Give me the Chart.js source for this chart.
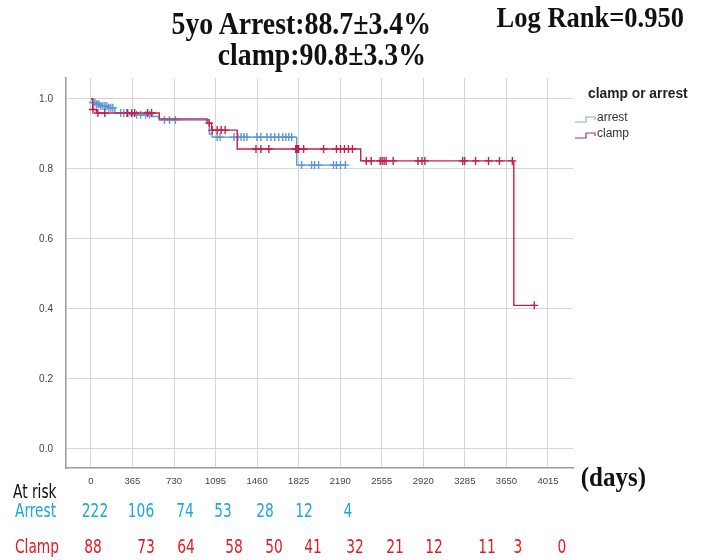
<!DOCTYPE html>
<html>
<head>
<meta charset="utf-8">
<script src="https://cdn.jsdelivr.net/npm/chart.js@4/dist/chart.umd.min.js"></script>
<style>
  html,body{margin:0;padding:0;background:#fff;}
  #wrap{position:relative;width:707px;height:560px;overflow:hidden;background:#fff;}
  #c{position:absolute;left:0;top:0;}
  .t{position:absolute;white-space:nowrap;line-height:1;}
  .serif{font-family:'Liberation Serif','Times New Roman',serif;font-weight:bold;color:#111;transform:scale(1,1.12);transform-origin:right top;}
  .narrow{font-family:'Liberation Sans Narrow','Arial Narrow','DejaVu Sans Condensed','Liberation Sans',sans-serif;transform:scale(0.9,1.12);transform-origin:left top;}
  .num{transform:translateX(-50%) scale(0.9,1.12);transform-origin:center top;}
</style>
</head>
<body>
<div id="wrap">
  <canvas id="c" width="707" height="560"></canvas>
</div>
<script>
// ---------- data ----------
const xTickValues = [0, 365, 730, 1095, 1460, 1825, 2190, 2555, 2920, 3285, 3650, 4015];
const yTickValues = [0, 0.2, 0.4, 0.6, 0.8, 1.0];

// Kaplan-Meier step points (days, survival)
const arrestTimes = [0, 17, 44, 79, 148, 210, 340, 533, 600, 1040, 1065, 1808, 2240];
const arrestSurv  = [1.0, 0.99, 0.985, 0.98, 0.975, 0.96, 0.955, 0.95, 0.94, 0.90, 0.891, 0.811, 0.811];

const clampTimes = [0, 15, 50, 600, 1020, 1060, 1285, 2370, 3715, 3895];
const clampSurv  = [1.0, 0.97, 0.96, 0.943, 0.931, 0.911, 0.857, 0.823, 0.41, 0.41];

// censored observation times (days)
const arrestCensored = [17, 35, 52, 70, 87, 105, 122, 140, 157, 175, 192, 262, 288, 314, 402, 437, 480, 515, 646, 690, 742,
  1109, 1135, 1257, 1292, 1319, 1345, 1371, 1458, 1493, 1546, 1581, 1615, 1650, 1685, 1712, 1738, 1764,
  1851, 1939, 1965, 2000, 2131, 2157, 2192, 2235];
const clampCensored = [17, 61, 122, 323, 358, 384, 498, 533, 1039, 1065, 1109, 1144, 1179, 1450, 1493, 1563,
  1799, 1808, 1816, 1825, 1869, 2044, 2157, 2192, 2227, 2262, 2297, 2419, 2462, 2541, 2559, 2576, 2594, 2655,
  2873, 2908, 2934, 3266, 3283, 3379, 3493, 3589, 3702, 3895];

// number at risk
const atRiskArrest = [222, 106, 74, 53, 28, 12, 4];
const atRiskClamp  = [88, 73, 64, 58, 50, 41, 32, 21, 12, 11, 3, 0];

// ---------- helpers ----------
function survAt(times, surv, t){
  let s = surv[0];
  for (let i = 0; i < times.length; i++){ if (times[i] <= t) s = surv[i]; }
  return s;
}
const BLUE = '#5b98d6';
const RED  = '#c61f4d';

const ctx = document.getElementById('c').getContext('2d');
new Chart(ctx, {
  type: 'line',
  data: {
    datasets: [
      { label: 'clamp', data: clampTimes.map((t,i)=>({x:t,y:clampSurv[i]})), stepped: 'before',
        borderColor: RED, borderWidth: 1.4, pointRadius: 0, fill: false },
      { label: 'clamp censored', type: 'scatter', data: clampCensored.map(t=>({x:t,y:survAt(clampTimes,clampSurv,t)})),
        pointStyle: 'cross', pointRadius: 4, borderColor: RED, backgroundColor: RED, pointBorderWidth: 1.4, showLine:false },
      { label: 'arrest', data: arrestTimes.map((t,i)=>({x:t,y:arrestSurv[i]})), stepped: 'before',
        borderColor: BLUE, borderWidth: 1.4, pointRadius: 0, fill: false },
      { label: 'arrest censored', type: 'scatter', data: arrestCensored.map(t=>({x:t,y:survAt(arrestTimes,arrestSurv,t)})),
        pointStyle: 'cross', pointRadius: 4, borderColor: BLUE, backgroundColor: BLUE, pointBorderWidth: 1.4, showLine:false }
    ]
  },
  options: {
    responsive: false,
    devicePixelRatio: 1,
    animation: false,
    layout: { padding: { top: 78, right: 134, left: 0, bottom: 0 } },
    plugins: { legend: { display: false }, tooltip: { enabled: false } },
    scales: {
      x: {
        type: 'linear', min: -219, max: 4235,
        afterBuildTicks: s => { s.ticks = xTickValues.map(v => ({ value: v })); },
        afterFit: s => { s.height = 92; },
        grid: { color: '#d6d6d6', lineWidth: 1, drawTicks: false },
        border: { color: '#9a9a9a', width: 1.5 },
        ticks: { autoSkip: false, maxRotation: 0, padding: 8, color: '#444',
                 font: { family: "'Liberation Sans Narrow','Arial Narrow','Liberation Sans',sans-serif", size: 9.5 },
                 callback: v => String(v) }
      },
      y: {
        type: 'linear', min: -0.055, max: 1.06,
        afterBuildTicks: s => { s.ticks = yTickValues.map(v => ({ value: v })); },
        afterFit: s => { s.width = 66; },
        grid: { color: '#d6d6d6', lineWidth: 1, drawTicks: false },
        border: { color: '#9a9a9a', width: 1.5 },
        ticks: { padding: 13, color: '#444',
                 font: { family: "'Liberation Sans Narrow','Arial Narrow','Liberation Sans',sans-serif", size: 10 },
                 callback: v => Number(v).toFixed(1) }
      }
    }
  }
});

// ---------- text overlays ----------
const wrap = document.getElementById('wrap');
function addText(txt, cls, style){
  const d = document.createElement('div');
  d.className = 't ' + cls;
  d.textContent = txt;
  Object.assign(d.style, style);
  wrap.appendChild(d);
  return d;
}
// titles
addText('5yo Arrest:88.7\u00B13.4%', 'serif', { right: (707-431)+'px', top: '8px', fontSize: '27.8px' });
addText('clamp:90.8\u00B13.3%', 'serif', { right: (707-426)+'px', top: '39px', fontSize: '27.8px' });
addText('Log Rank=0.950', 'serif', { right: (707-684)+'px', top: '2px', fontSize: '26.5px' });
addText('(days)', 'serif', { right: (707-646)+'px', top: '462px', fontSize: '25px' });

// legend
addText('clamp or arrest', '', { left: '588px', top: '87px', fontSize: '13.8px', fontWeight: 'bold',
  fontFamily: "'Liberation Sans',Arial,sans-serif", color: '#222' });
addText('arrest', '', { left: '597px', top: '111px', fontSize: '12px', fontFamily: "'Liberation Sans',Arial,sans-serif", color: '#333' });
addText('clamp', '', { left: '597px', top: '127px', fontSize: '12px', fontFamily: "'Liberation Sans',Arial,sans-serif", color: '#333' });
const svgNS = 'http://www.w3.org/2000/svg';
const svg = document.createElementNS(svgNS, 'svg');
svg.setAttribute('width', '707'); svg.setAttribute('height', '560');
svg.style.position = 'absolute'; svg.style.left = '0'; svg.style.top = '0'; svg.style.pointerEvents = 'none';
[[122, '#86aedb'], [138, '#b23560']].forEach(([y, col]) => {
  const p = document.createElementNS(svgNS, 'polyline');
  p.setAttribute('points', `575,${y} 586,${y} 586,${y-5} 595,${y-5} 595,${y-2}`);
  p.setAttribute('fill', 'none'); p.setAttribute('stroke', col); p.setAttribute('stroke-width', '1.2');
  svg.appendChild(p);
});
wrap.appendChild(svg);

// at-risk table
addText('At risk', 'narrow', { left: '13px', top: '482px', fontSize: '17px', color: '#111' });
addText('Arrest', 'narrow', { left: '15px', top: '501px', fontSize: '17px', color: '#1ea5e2' });
addText('Clamp', 'narrow', { left: '15px', top: '537px', fontSize: '17px', color: '#e41b23' });
const arrestPos = [95, 141, 185, 223, 265, 304, 348];
const clampPos  = [93, 146, 186, 234, 274, 313, 355, 395, 434, 487, 518, 562];
atRiskArrest.forEach((v,i) => addText(String(v), 'narrow num', { left: arrestPos[i]+'px', top: '501px', fontSize: '17px', color: '#1ea5e2' }));
atRiskClamp.forEach((v,i) => addText(String(v), 'narrow num', { left: clampPos[i]+'px', top: '537px', fontSize: '17px', color: '#e41b23' }));
</script>
</body>
</html>
